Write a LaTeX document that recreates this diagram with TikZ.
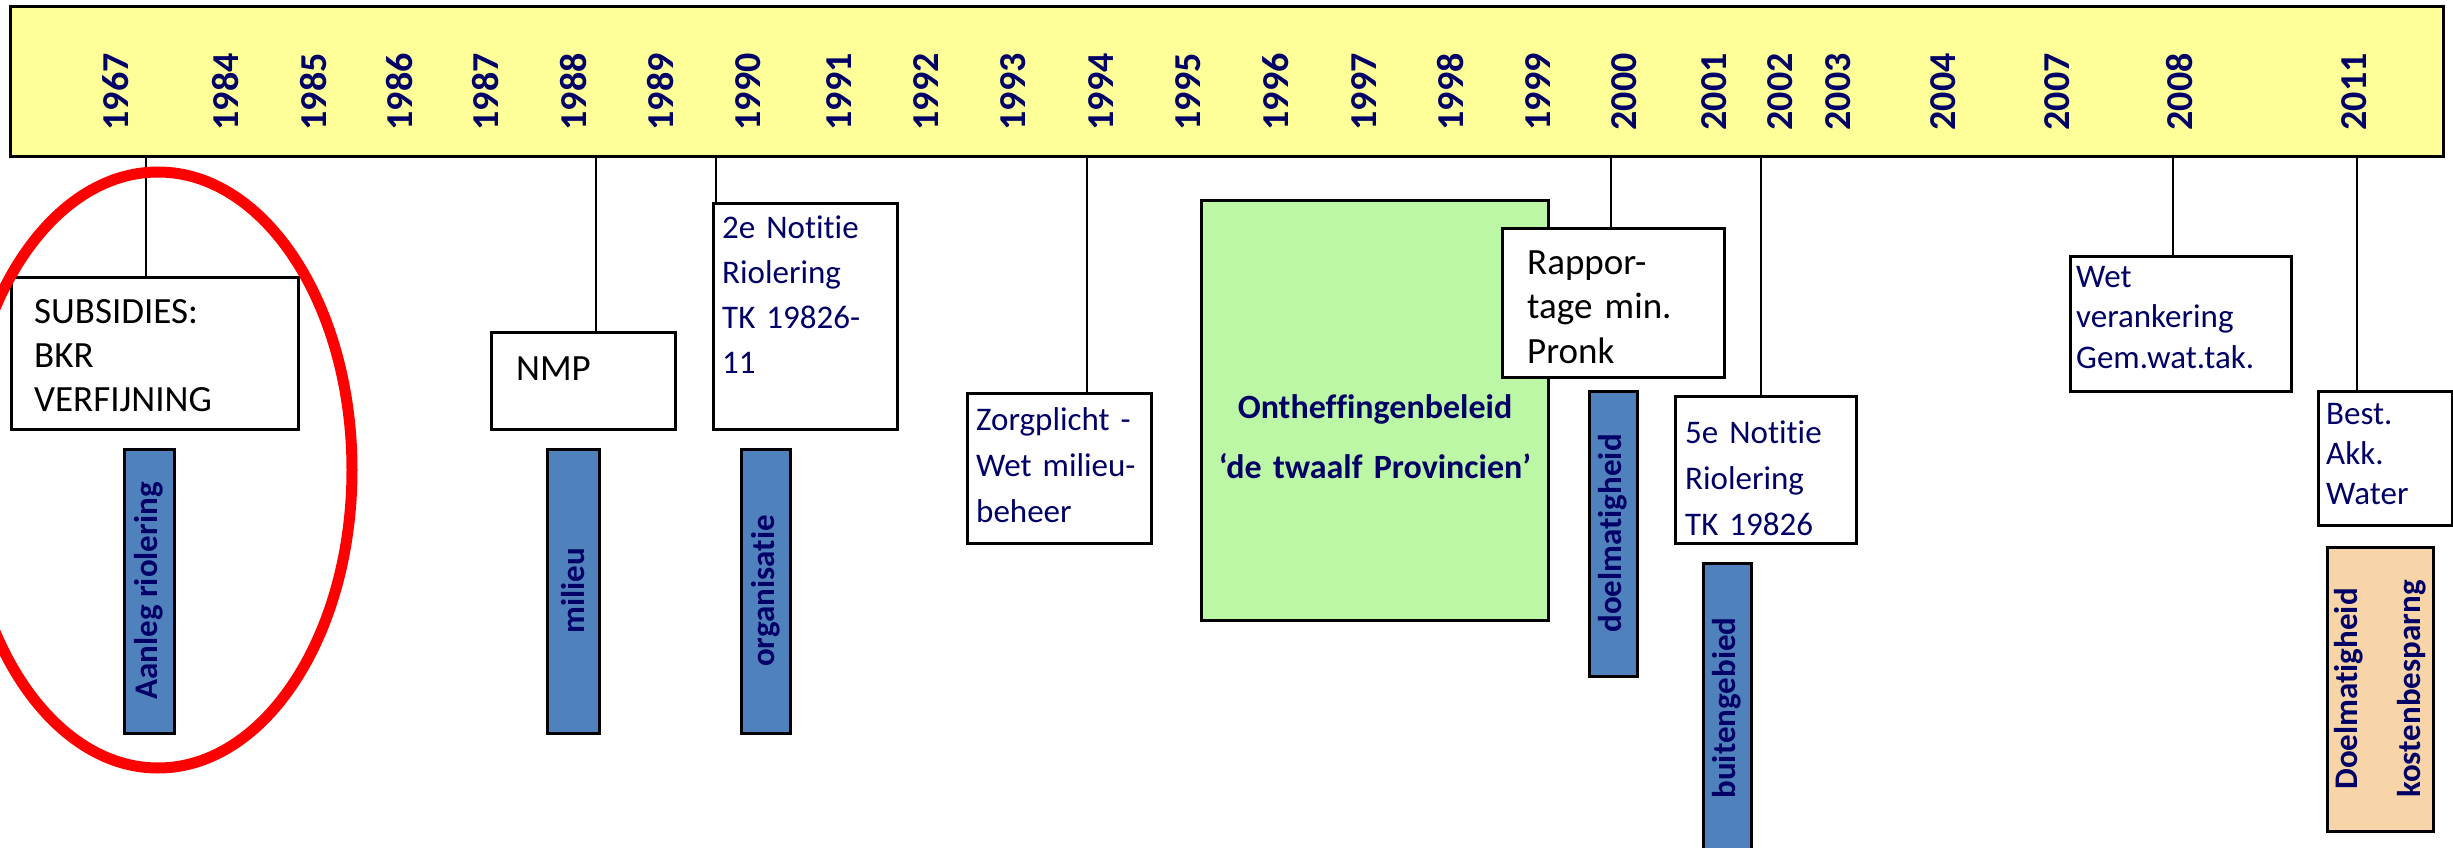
\documentclass[tikz,border=0pt]{standalone}
\usepackage{fontspec}
\setmainfont{Carlito}[Ligatures={NoCommon}]
\definecolor{navy}{RGB}{0,0,102}
\definecolor{barblue}{RGB}{79,129,189}
\definecolor{ylw}{RGB}{255,255,153}
\definecolor{grn}{RGB}{187,247,165}
\definecolor{peach}{RGB}{247,213,168}
\begin{document}
\begin{tikzpicture}[x=1pt,y=-1pt,
 frame/.style={draw=black, line width=3pt, inner sep=0pt, outer sep=0pt, anchor=north west},
 box/.style={frame, fill=white},
 vbar/.style={frame, fill=barblue},
 leader/.style={line width=2.5pt},
 year/.style={rotate=90, text=navy, font=\fontsize{38}{40}\selectfont\bfseries, inner sep=0pt},
 bartext/.style={rotate=90, text=navy, font=\fontsize{33}{40}\selectfont\bfseries, inner sep=0pt},
 blacktxt/.style 2 args={anchor=base west, inner sep=0pt, align=left, text width=#1, font=\fontsize{37}{#2}\selectfont},
 navytxt/.style 2 args={anchor=base west, inner sep=0pt, align=left, text width=#1, text=navy, font=\fontsize{33}{#2}\selectfont}
]
\useasboundingbox (0,0) rectangle (2453,848);
% timeline bar
\node[frame, fill=ylw, minimum width=2433, minimum height=150] (bar) at (10,7) {};
\foreach \yr/\xx in {1967/116,1984/226,1985/314,1986/400,1987/486,1988/574,1989/661,1990/748,1991/839,1992/926,1993/1013,1994/1101,1995/1188,1996/1276,1997/1364,1998/1451,1999/1538,2000/1624,2001/1714,2002/1780,2003/1838,2004/1943,2007/2057,2008/2179,2011/2354}
  \node[year] (y\yr) at (\xx,92) {\yr};
% boxes
\node[box, minimum width=287, minimum height=152] (sub) at (11,277) {};
\node[box, minimum width=184, minimum height=97] (nmp) at (491,332) {};
\node[box, minimum width=184, minimum height=226] (ntwo) at (713,203) {};
\node[box, minimum width=184, minimum height=150] (zorg) at (967,393) {};
\node[frame, fill=grn, minimum width=347, minimum height=420] (ont) at (1201,200) {};
\node[box, minimum width=222, minimum height=149] (rap) at (1502,228) {};
\node[box, minimum width=181, minimum height=147] (nfive) at (1675,396) {};
\node[box, minimum width=221, minimum height=135] (wet) at (2070,256) {};
\node[box, minimum width=134, minimum height=134] (best) at (2318,391) {};
% vertical bars
\node[vbar, minimum width=50, minimum height=284] (aan) at (124,449) {};
\node[vbar, minimum width=52, minimum height=284] (mil) at (547,449) {};
\node[vbar, minimum width=49, minimum height=284] (org) at (741,449) {};
\node[vbar, minimum width=48, minimum height=285] (doel) at (1589,391) {};
\node[vbar, minimum width=48, minimum height=300] (buit) at (1703,563) {};
\node[frame, fill=peach, minimum width=106, minimum height=284] (kost) at (2327,547) {};
% leaders
\draw[leader] (146,157) coordinate (l67) -- (l67 |- sub.north);
\draw[leader] (596,157) coordinate (l88) -- (l88 |- nmp.north);
\draw[leader] (716,157) coordinate (l90) -- (l90 |- ntwo.north);
\draw[leader] (1087,157) coordinate (l94) -- (l94 |- zorg.north);
\draw[leader] (1611,157) coordinate (l00) -- (l00 |- rap.north);
\draw[leader] (1761,157) coordinate (l02) -- (l02 |- nfive.north);
\draw[leader] (2173,157) coordinate (l08) -- (l08 |- wet.north);
\draw[leader] (2357,157) coordinate (l11) -- (l11 |- best.north);
% box texts
\node[blacktxt={250}{44}] (subT) at (34,323) {SUBSIDIES:\\BKR\\VERFIJNING};
\node[blacktxt={150}{44}] (nmpT) at (516,380) {NMP};
\node[navytxt={170}{45}] (ntwoT) at (722,238) {2e Notitie\\Riolering\\TK 19826-\\11};
\node[navytxt={170}{46}] (zorgT) at (976,430) {Zorgplicht -\\Wet milieu-\\beheer};
\node[blacktxt={195}{44.5}] (rapT) at (1527,274) {Rappor-\\tage min.\\Pronk};
\node[navytxt={170}{46}] (nfiveT) at (1685,443) {5e Notitie\\Riolering\\TK 19826};
\node[navytxt={210}{40.5}] (wetT) at (2076,287) {Wet\\verankering\\Gem.wat.tak.};
\node[navytxt={120}{40}] (bestT) at (2326,424) {Best.\\Akk.\\Water};
\node[anchor=base, inner sep=0pt, text width=340, align=center, text=navy, font=\fontsize{34}{60}\selectfont\bfseries] (ontT) at (1375,418) {Ontheffingenbeleid\\‘de twaalf Provincien’};
% bar texts
\node[bartext] (aanT) at (aan.center) {Aanleg riolering};
\node[bartext] (milT) at (mil.center) {milieu};
\node[bartext] (orgT) at (org.center) {organisatie};
\node[bartext] (doelT) at (doel.center) {doelmatigheid};
\node[bartext] (buitT) at (1727,708) {buitengebied};
\node[rotate=90, inner sep=0pt, text width=260, align=center, text=navy, font=\fontsize{33}{63}\selectfont\bfseries] (kostT) at (kost.center) {Doelmatigheid\\kostenbesparng};
% red ellipse
\draw[red, line width=11pt] (158,470) ellipse [x radius=194pt, y radius=298pt];
\end{tikzpicture}
\end{document}
